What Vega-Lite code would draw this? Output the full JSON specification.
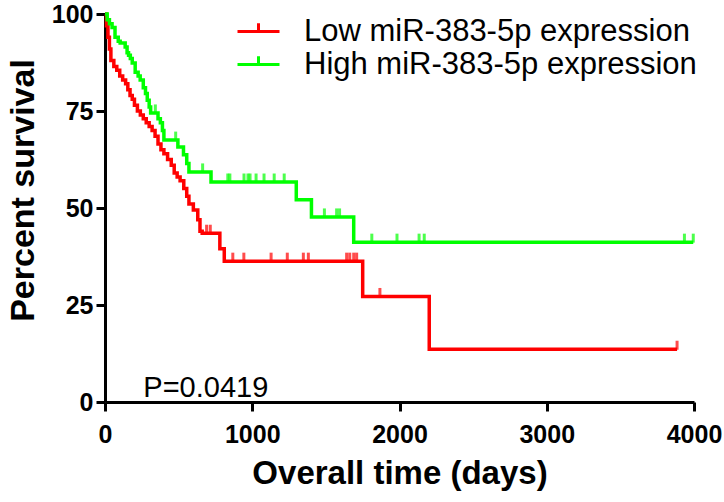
{
  "$schema": "https://vega.github.io/schema/vega-lite/v6.json",
  "autosize": "none",
  "width": 589,
  "height": 388,
  "padding": {"left": 105, "top": 14, "right": 30, "bottom": 100},
  "background": "white",
  "config": {
    "view": {"stroke": null},
    "axis": {
      "grid": false,
      "domainColor": "black", "domainWidth": 3,
      "tickColor": "black", "tickWidth": 3, "tickSize": 9,
      "labelFont": "Liberation Sans", "labelFontWeight": "bold", "labelFontSize": 25, "labelColor": "black",
      "labelFlush": false, "labelOverlap": false,
      "titleFont": "Liberation Sans", "titleFontWeight": "bold", "titleFontSize": 33, "titleColor": "black"
    }
  },
  "datasets": {
    "km": [
      {"group": "Low miR-383-5p expression", "day": 0, "surv": 100},
      {"group": "Low miR-383-5p expression", "day": 10, "surv": 97},
      {"group": "Low miR-383-5p expression", "day": 20, "surv": 94},
      {"group": "Low miR-383-5p expression", "day": 30, "surv": 91},
      {"group": "Low miR-383-5p expression", "day": 40, "surv": 88},
      {"group": "Low miR-383-5p expression", "day": 60, "surv": 86.5},
      {"group": "Low miR-383-5p expression", "day": 80, "surv": 85.5},
      {"group": "Low miR-383-5p expression", "day": 100, "surv": 84},
      {"group": "Low miR-383-5p expression", "day": 120, "surv": 83},
      {"group": "Low miR-383-5p expression", "day": 140, "surv": 82},
      {"group": "Low miR-383-5p expression", "day": 155, "surv": 80.5},
      {"group": "Low miR-383-5p expression", "day": 170, "surv": 79},
      {"group": "Low miR-383-5p expression", "day": 185, "surv": 78},
      {"group": "Low miR-383-5p expression", "day": 200, "surv": 76.5},
      {"group": "Low miR-383-5p expression", "day": 220, "surv": 75},
      {"group": "Low miR-383-5p expression", "day": 240, "surv": 74},
      {"group": "Low miR-383-5p expression", "day": 260, "surv": 73},
      {"group": "Low miR-383-5p expression", "day": 280, "surv": 72},
      {"group": "Low miR-383-5p expression", "day": 300, "surv": 71},
      {"group": "Low miR-383-5p expression", "day": 320, "surv": 70},
      {"group": "Low miR-383-5p expression", "day": 340, "surv": 68.5},
      {"group": "Low miR-383-5p expression", "day": 360, "surv": 66.5},
      {"group": "Low miR-383-5p expression", "day": 380, "surv": 65},
      {"group": "Low miR-383-5p expression", "day": 400, "surv": 64},
      {"group": "Low miR-383-5p expression", "day": 425, "surv": 62.5},
      {"group": "Low miR-383-5p expression", "day": 450, "surv": 61},
      {"group": "Low miR-383-5p expression", "day": 470, "surv": 59},
      {"group": "Low miR-383-5p expression", "day": 490, "surv": 58},
      {"group": "Low miR-383-5p expression", "day": 510, "surv": 57},
      {"group": "Low miR-383-5p expression", "day": 535, "surv": 55},
      {"group": "Low miR-383-5p expression", "day": 555, "surv": 53},
      {"group": "Low miR-383-5p expression", "day": 570, "surv": 51},
      {"group": "Low miR-383-5p expression", "day": 600, "surv": 49.5},
      {"group": "Low miR-383-5p expression", "day": 630, "surv": 47},
      {"group": "Low miR-383-5p expression", "day": 645, "surv": 44},
      {"group": "Low miR-383-5p expression", "day": 660, "surv": 43.5},
      {"group": "Low miR-383-5p expression", "day": 780, "surv": 39.5},
      {"group": "Low miR-383-5p expression", "day": 810, "surv": 36.3},
      {"group": "Low miR-383-5p expression", "day": 1750, "surv": 27.2},
      {"group": "Low miR-383-5p expression", "day": 2202, "surv": 13.6},
      {"group": "Low miR-383-5p expression", "day": 3885, "surv": 13.6},
      {"group": "High miR-383-5p expression", "day": 0, "surv": 100},
      {"group": "High miR-383-5p expression", "day": 15, "surv": 98.5},
      {"group": "High miR-383-5p expression", "day": 30, "surv": 97.5},
      {"group": "High miR-383-5p expression", "day": 48, "surv": 96.5},
      {"group": "High miR-383-5p expression", "day": 68, "surv": 94},
      {"group": "High miR-383-5p expression", "day": 90, "surv": 93},
      {"group": "High miR-383-5p expression", "day": 103, "surv": 92.5},
      {"group": "High miR-383-5p expression", "day": 137, "surv": 91.5},
      {"group": "High miR-383-5p expression", "day": 150, "surv": 90},
      {"group": "High miR-383-5p expression", "day": 160, "surv": 89.4},
      {"group": "High miR-383-5p expression", "day": 172, "surv": 88.5},
      {"group": "High miR-383-5p expression", "day": 185, "surv": 87.4},
      {"group": "High miR-383-5p expression", "day": 205, "surv": 85},
      {"group": "High miR-383-5p expression", "day": 225, "surv": 84},
      {"group": "High miR-383-5p expression", "day": 239, "surv": 83},
      {"group": "High miR-383-5p expression", "day": 260, "surv": 81},
      {"group": "High miR-383-5p expression", "day": 275, "surv": 79.5},
      {"group": "High miR-383-5p expression", "day": 287, "surv": 77.8},
      {"group": "High miR-383-5p expression", "day": 300, "surv": 76},
      {"group": "High miR-383-5p expression", "day": 310, "surv": 74.5},
      {"group": "High miR-383-5p expression", "day": 360, "surv": 73},
      {"group": "High miR-383-5p expression", "day": 376, "surv": 72},
      {"group": "High miR-383-5p expression", "day": 390, "surv": 70},
      {"group": "High miR-383-5p expression", "day": 400, "surv": 67.5},
      {"group": "High miR-383-5p expression", "day": 495, "surv": 65.7},
      {"group": "High miR-383-5p expression", "day": 533, "surv": 63.7},
      {"group": "High miR-383-5p expression", "day": 555, "surv": 61.5},
      {"group": "High miR-383-5p expression", "day": 570, "surv": 59.3},
      {"group": "High miR-383-5p expression", "day": 720, "surv": 56.7},
      {"group": "High miR-383-5p expression", "day": 1299, "surv": 52.1},
      {"group": "High miR-383-5p expression", "day": 1402, "surv": 47.7},
      {"group": "High miR-383-5p expression", "day": 1689, "surv": 41.2},
      {"group": "High miR-383-5p expression", "day": 3995, "surv": 41.2}
    ],
    "censor": [
      {"group": "Low miR-383-5p expression", "day": 690, "surv": 43.5},
      {"group": "Low miR-383-5p expression", "day": 715, "surv": 43.5},
      {"group": "Low miR-383-5p expression", "day": 868, "surv": 36.3},
      {"group": "Low miR-383-5p expression", "day": 943, "surv": 36.3},
      {"group": "Low miR-383-5p expression", "day": 1128, "surv": 36.3},
      {"group": "Low miR-383-5p expression", "day": 1238, "surv": 36.3},
      {"group": "Low miR-383-5p expression", "day": 1347, "surv": 36.3},
      {"group": "Low miR-383-5p expression", "day": 1381, "surv": 36.3},
      {"group": "Low miR-383-5p expression", "day": 1641, "surv": 36.3},
      {"group": "Low miR-383-5p expression", "day": 1662, "surv": 36.3},
      {"group": "Low miR-383-5p expression", "day": 1689, "surv": 36.3},
      {"group": "Low miR-383-5p expression", "day": 1709, "surv": 36.3},
      {"group": "Low miR-383-5p expression", "day": 1867, "surv": 27.2},
      {"group": "Low miR-383-5p expression", "day": 3885, "surv": 13.6},
      {"group": "High miR-383-5p expression", "day": 342, "surv": 74.5},
      {"group": "High miR-383-5p expression", "day": 480, "surv": 67.5},
      {"group": "High miR-383-5p expression", "day": 663, "surv": 59.3},
      {"group": "High miR-383-5p expression", "day": 834, "surv": 56.7},
      {"group": "High miR-383-5p expression", "day": 848, "surv": 56.7},
      {"group": "High miR-383-5p expression", "day": 944, "surv": 56.7},
      {"group": "High miR-383-5p expression", "day": 971, "surv": 56.7},
      {"group": "High miR-383-5p expression", "day": 985, "surv": 56.7},
      {"group": "High miR-383-5p expression", "day": 1026, "surv": 56.7},
      {"group": "High miR-383-5p expression", "day": 1080, "surv": 56.7},
      {"group": "High miR-383-5p expression", "day": 1149, "surv": 56.7},
      {"group": "High miR-383-5p expression", "day": 1217, "surv": 56.7},
      {"group": "High miR-383-5p expression", "day": 1490, "surv": 47.7},
      {"group": "High miR-383-5p expression", "day": 1573, "surv": 47.7},
      {"group": "High miR-383-5p expression", "day": 1593, "surv": 47.7},
      {"group": "High miR-383-5p expression", "day": 1812, "surv": 41.2},
      {"group": "High miR-383-5p expression", "day": 1983, "surv": 41.2},
      {"group": "High miR-383-5p expression", "day": 2133, "surv": 41.2},
      {"group": "High miR-383-5p expression", "day": 2168, "surv": 41.2},
      {"group": "High miR-383-5p expression", "day": 3935, "surv": 41.2},
      {"group": "High miR-383-5p expression", "day": 3995, "surv": 41.2}
    ],
    "note": [{"label": "P=0.0419"}]
  },
  "layer": [
    {
      "data": {"name": "km"},
      "mark": {"type": "line", "interpolate": "step-after", "strokeWidth": 3.5},
      "encoding": {
        "x": {"field": "day", "type": "quantitative", "scale": {"domain": [0, 4000], "nice": false},
              "axis": {"values": [0, 1000, 2000, 3000, 4000], "format": "d", "title": "Overall time (days)", "labelPadding": 11, "titlePadding": 10}},
        "y": {"field": "surv", "type": "quantitative", "scale": {"domain": [0, 100], "nice": false},
              "axis": {"values": [0, 25, 50, 75, 100], "title": "Percent survival", "titleFontSize": 34, "titleY": 176, "labelPadding": 3, "titlePadding": 11}},
        "color": {"field": "group", "type": "nominal",
                  "scale": {"domain": ["Low miR-383-5p expression", "High miR-383-5p expression"], "range": ["#ff0000", "#00ff00"]},
                  "legend": {"title": null, "orient": "none", "legendX": 137, "legendY": 1,
                             "symbolType": "M-1.4,0H1.4M0,0V-0.55", "symbolSize": 900, "symbolStrokeWidth": 3,
                             "labelFont": "Liberation Sans", "labelFontSize": 31, "labelColor": "black", "labelLimit": 0,
                             "labelOffset": 29, "rowPadding": 1}},
        "detail": {"field": "group"}
      }
    },
    {
      "data": {"name": "censor"},
      "mark": {"type": "tick", "orient": "vertical", "size": 9, "thickness": 3, "yOffset": -4},
      "encoding": {
        "x": {"field": "day", "type": "quantitative"},
        "y": {"field": "surv", "type": "quantitative"},
        "color": {"field": "group", "type": "nominal", "legend": null}
      }
    },
    {
      "data": {"name": "note"},
      "mark": {"type": "text", "font": "Liberation Sans", "fontSize": 29, "align": "left", "baseline": "middle", "color": "black"},
      "encoding": {
        "x": {"datum": 260},
        "y": {"datum": 3.5},
        "text": {"field": "label"}
      }
    }
  ]
}
